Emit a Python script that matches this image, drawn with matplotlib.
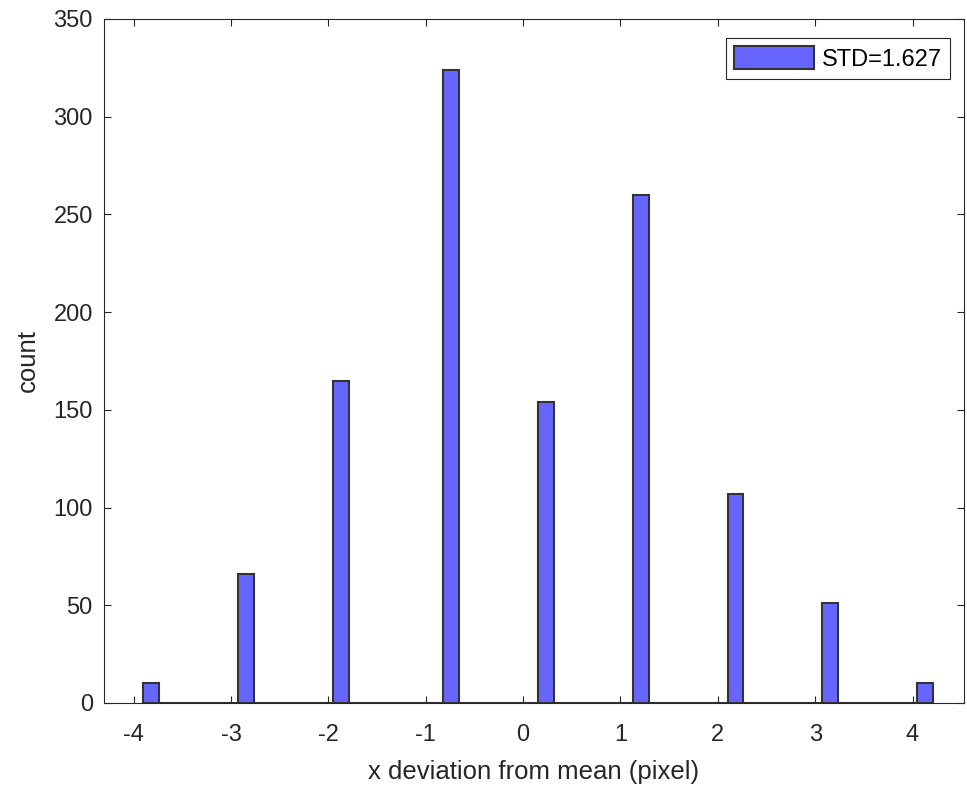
import numpy as np
import matplotlib.pyplot as plt

# histogram: 50 bins between the min and max deviation
bin_lo = -3.90
bin_hi = 4.21
n_bins = 50
# only these bins hold samples, the rest are empty
filled_bins = [0, 6, 12, 19, 25, 31, 37, 43, 49]
filled_counts = [10, 66, 165, 324, 154, 260, 107, 51, 10]
legend_text = "STD=1.627"

x_ticks = [-4, -3, -2, -1, 0, 1, 2, 3, 4]
y_ticks = [0, 50, 100, 150, 200, 250, 300, 350]

plt.rcParams["font.family"] = ["Liberation Sans", "DejaVu Sans"]
plt.rcParams["axes.unicode_minus"] = False
axis_color = "#262626"

edges = np.linspace(bin_lo, bin_hi, n_bins + 1)
counts = np.zeros(n_bins)
counts[filled_bins] = filled_counts

fig = plt.figure(figsize=(9.67, 7.89), dpi=100)
ax = fig.add_axes([0.1075, 0.109, 0.889, 0.867])

ax.bar(edges[:-1], counts, width=np.diff(edges), align="edge",
       color="#6666ff", edgecolor="#333333", linewidth=1.5, label=legend_text)

ax.set_xlim(-4.305, 4.525)
ax.set_ylim(0, 350)
ax.set_xticks(x_ticks)
ax.set_yticks(y_ticks)
ax.tick_params(direction="in", length=5, width=0.8, colors=axis_color,
               labelsize=17, top=True, right=True, pad=8)
ax.tick_params(axis="x", pad=15)
for s in ax.spines.values():
    s.set_color(axis_color)
    s.set_linewidth(0.8)

ax.set_xlabel("x deviation from mean (pixel)", fontsize=18.5, color=axis_color, labelpad=10)
ax.set_ylabel("count", fontsize=18.5, color=axis_color, labelpad=10)

leg = ax.legend(loc="upper right", bbox_to_anchor=(0.984, 0.972), borderaxespad=0,
                fontsize=17, fancybox=False, framealpha=1,
                handlelength=3.4, handleheight=1.1, handletextpad=0.3,
                borderpad=0.35)
leg.get_frame().set_edgecolor(axis_color)
leg.get_frame().set_linewidth(0.8)

fig.savefig("out.png", dpi=100)
